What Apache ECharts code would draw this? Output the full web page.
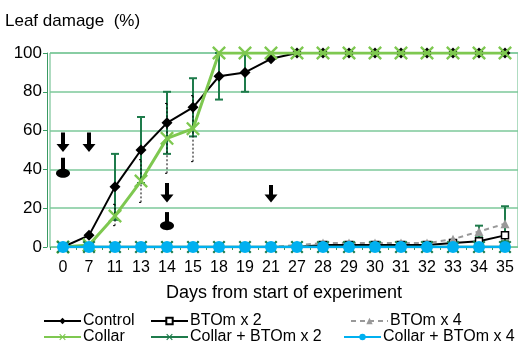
<!DOCTYPE html>
<html><head><meta charset="utf-8">
<script src="https://cdn.jsdelivr.net/npm/echarts@6/dist/echarts.min.js"></script>
<style>html,body{margin:0;padding:0;background:#fff}#c{width:518px;height:344px}</style>
</head><body><div id="c"></div>
<script>
var days = ['0','7','11','13','14','15','18','19','21','27','28','29','30','31','32','33','34','35'];
var control      = [0, 6, 31, 50, 64, 72, 88, 90, 97, 100, 100, 100, 100, 100, 100, 100, 100, 100];
var btom2        = [0, 0, 0, 0, 0, 0, 0, 0, 0, 0, 1, 1, 1, 1, 1, 2, 3, 6];
var btom4        = [0, 0, 0, 0, 0, 0, 0, 0, 0, 1, 2, 2, 2, 2, 2, 4, 8, 12];
var collar       = [0, 1, 16, 34, 56, 61, 100, 100, 100, 100, 100, 100, 100, 100, 100, 100, 100, 100];
var collarBtom2  = [0, 0, 0, 0, 0, 0, 0, 0, 0, 0, 0, 0, 0, 0, 0, 0, 0, 0];
var collarBtom4  = [0, 0, 0, 0, 0, 0, 0, 0, 0, 0, 0, 0, 0, 0, 0, 0, 0, 0];
// error bars: [day, low, high]
var controlErr = [['11', 14, 48], ['13', 33, 67], ['14', 48, 80], ['15', 57, 87], ['18', 76, 100], ['19', 80, 100], ['34', 5, 11], ['35', 3, 21]];
var collarErr  = [['11', 11, 22], ['13', 23, 45], ['14', 38, 74], ['15', 44, 78]];
// arrows: [day, top, tip]; lollipops: [day, top, center]
var arrows = [['0', 59, 49], ['7', 59, 49], ['14', 33, 23], ['21', 32, 23]];
var lollipops = [['0', 46, 38], ['14', 18, 11]];

var DG = '#1e7b4b', LG = '#7ec850', CY = '#00b0f0', GRIDC = '#7cc99a', AXC = '#3a9a63';
var xPath = 'path://M0,1.2 L1.2,0 L5,3.8 L8.8,0 L10,1.2 L6.2,5 L10,8.8 L8.8,10 L5,6.2 L1.2,10 L0,8.8 L3.8,5 Z';

function idx(d){ return days.indexOf(d); }

var chart = echarts.init(document.getElementById('c'));
var font = 'Liberation Sans, Arial, sans-serif';

function errSeries(data, color, dashed, z){
  return {
    type: 'custom', z: z, silent: true,
    data: data.map(function(e){ return [idx(e[0]), e[1], e[2]]; }),
    renderItem: function(params, api){
      var lo = api.coord([api.value(0), api.value(1)]);
      var hi = api.coord([api.value(0), api.value(2)]);
      var style = {stroke: color, lineWidth: dashed ? 1 : 2, lineDash: dashed ? [2, 2] : null};
      var w = dashed ? 2 : 4;
      return {type: 'group', children: [
        {type: 'line', shape: {x1: lo[0], y1: lo[1], x2: hi[0], y2: hi[1]}, style: style},
        {type: 'line', shape: {x1: lo[0]-w, y1: lo[1], x2: lo[0]+w, y2: lo[1]}, style: style},
        {type: 'line', shape: {x1: hi[0]-w, y1: hi[1], x2: hi[0]+w, y2: hi[1]}, style: style}
      ]};
    }
  };
}

function lg(left, top, name){
  return {orient: 'horizontal', left: left, top: top, itemWidth: 37, itemHeight: 8, padding: 0,
    textStyle: {fontFamily: font, fontSize: 16, lineHeight: 16, color: '#000', padding: [0,0,0,-3]},
    data: [name]};
}

var option = {
  animation: false,
  textStyle: {fontFamily: font},
  title: {text: 'Leaf damage  (%)', left: 5, top: 13, padding: 0,
          textStyle: {fontFamily: font, fontSize: 17, fontWeight: 'normal', color: '#000'}},
  grid: {left: 50, right: 0, top: 53, bottom: 97, show: true, borderColor: '#5fb882', borderWidth: 1, backgroundColor: 'transparent'},
  legend: [
    lg(43, 313, 'Control'),
    lg(43, 329, 'Collar'),
    lg(150, 313, 'BTOm x 2'),
    lg(150, 329, 'Collar + BTOm x 2'),
    lg(350, 313, 'BTOm x 4'),
    lg(343, 329, 'Collar + BTOm x 4')
  ],
  xAxis: {
    type: 'category', data: days, boundaryGap: true,
    name: 'Days from start of experiment', nameLocation: 'middle', nameGap: 37,
    nameTextStyle: {fontFamily: font, fontSize: 18, color: '#000'},
    axisLine: {show: true, lineStyle: {color: GRIDC, width: 1}},
    axisTick: {show: true, length: 3, lineStyle: {color: AXC}},
    axisLabel: {fontFamily: font, fontSize: 16, color: '#000', margin: 13, interval: 0}
  },
  yAxis: {
    type: 'value', min: 0, max: 100, interval: 20, offset: 3,
    axisLine: {show: true, lineStyle: {color: AXC, width: 1}},
    axisTick: {show: true, length: 4, lineStyle: {color: AXC}},
    axisLabel: {fontFamily: font, fontSize: 17, color: '#000', margin: 5},
    splitLine: {show: true, lineStyle: {color: GRIDC, width: 1.5}}
  },
  series: [
    {name: 'Control', type: 'line', data: control, z: 3, symbol: 'diamond', symbolSize: 11,
     lineStyle: {color: '#000', width: 2}, itemStyle: {color: '#000'}},
    {name: 'BTOm x 2', type: 'line', data: btom2, z: 3, symbol: 'rect', symbolSize: 7,
     lineStyle: {color: '#000', width: 2}, itemStyle: {color: '#fff', borderColor: '#000', borderWidth: 1.5}},
    {name: 'BTOm x 4', type: 'line', data: btom4, z: 3, symbol: 'triangle', symbolSize: 9,
     lineStyle: {color: '#999', width: 2, type: [5, 4]}, itemStyle: {color: '#999'}},
    {name: 'Collar', type: 'line', data: collar, z: 4, symbol: xPath, symbolSize: 14,
     lineStyle: {color: LG, width: 3}, itemStyle: {color: LG}},
    {name: 'Collar + BTOm x 2', type: 'line', data: collarBtom2, z: 4, symbol: xPath, symbolSize: 13,
     lineStyle: {color: DG, width: 2.5}, itemStyle: {color: DG}},
    {name: 'Collar + BTOm x 4', type: 'line', data: collarBtom4, z: 5, symbol: 'circle', symbolSize: 12,
     lineStyle: {color: CY, width: 2.5}, itemStyle: {color: CY}},
    errSeries(controlErr, DG, false, 2),
    errSeries(collarErr, '#000', true, 2),
    {
      type: 'custom', z: 6, silent: true,
      data: arrows.map(function(a){ return [idx(a[0]), a[1], a[2]]; }),
      renderItem: function(params, api){
        var top = api.coord([api.value(0), api.value(1)]);
        var tip = api.coord([api.value(0), api.value(2)]);
        var x = top[0], hy = tip[1] - 8;
        return {type: 'polygon', shape: {points: [
          [x-2, top[1]], [x+2, top[1]], [x+2, hy], [x+6.5, hy], [x, tip[1]], [x-6.5, hy], [x-2, hy]
        ]}, style: {fill: '#000'}};
      }
    },
    {
      type: 'custom', z: 6, silent: true,
      data: lollipops.map(function(a){ return [idx(a[0]), a[1], a[2]]; }),
      renderItem: function(params, api){
        var top = api.coord([api.value(0), api.value(1)]);
        var c = api.coord([api.value(0), api.value(2)]);
        var pts = [];
        for (var i = 0; i < 32; i++) { var t = i / 32 * Math.PI * 2; pts.push([c[0] + 7 * Math.cos(t), c[1] + 4.5 * Math.sin(t)]); }
        return {type: 'group', children: [
          {type: 'rect', shape: {x: top[0]-2, y: top[1], width: 4, height: c[1]-top[1]}, style: {fill: '#000'}},
          {type: 'polygon', shape: {points: pts}, style: {fill: '#000'}}
        ]};
      }
    }
  ]
};
chart.setOption(option);
</script>
</body></html>
